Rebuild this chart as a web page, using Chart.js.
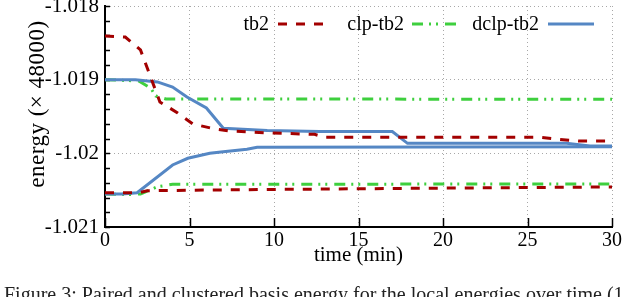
<!DOCTYPE html>
<html>
<head>
<meta charset="utf-8">
<script src="https://cdn.jsdelivr.net/npm/chart.js@4.4.1/dist/chart.umd.min.js"></script>
<style>
  html, body { margin: 0; padding: 0; background: #fff; overflow: hidden; width: 640px; height: 297px; }
  #wrap { position: absolute; left: 0; top: 0; width: 640px; height: 297px; }
  #caption { position: absolute; left: 4px; top: 284px; width: 700px; white-space: nowrap; line-height: 20px;
    font-family: "Liberation Serif", serif; font-size: 20px; color: #222; }
</style>
</head>
<body>
<div id="wrap"><canvas id="c" width="640" height="297"></canvas></div>
<div id="caption">Figure 3: Paired and clustered basis energy for the local energies over time (1</div>
<script>
// ---- data (time in min, energy in units of 48000) ----
const tb2UpperT = [0, 1.2, 2.1, 2.5, 3.25, 4.3, 5.2, 6.5, 7.4, 9.8, 12.4, 13.0, 25.7, 26.8, 28.0, 30];
const tb2UpperE = [-1.018407, -1.018421, -1.018597, -1.018842, -1.019303, -1.019452, -1.019601, -1.019670,
                   -1.019697, -1.019724, -1.019742, -1.019782, -1.019782, -1.019809, -1.019833, -1.019833];
const tb2LowerT = [0, 2.0, 2.5, 10, 20, 30];
const tb2LowerE = [-1.020534, -1.020534, -1.020507, -1.020490, -1.020472, -1.020456];

const clpUpperT = [0, 2.0, 2.7, 3.0, 3.6, 30];
const clpUpperE = [-1.019000, -1.019018, -1.019113, -1.019222, -1.019262, -1.019266];
const clpLowerT = [0, 1.5, 2.1, 2.66, 3.1, 4.0, 30];
const clpLowerE = [-1.020552, -1.020559, -1.020552, -1.020498, -1.020453, -1.020420, -1.020416];

const dclpUpperT = [0, 1.8, 3.1, 4.0, 4.85, 6.0, 7.0, 9.6, 12.7, 17.0, 17.9, 27.3, 28.7, 30];
const dclpUpperE = [-1.019000, -1.019000, -1.019031, -1.019100, -1.019235, -1.019385, -1.019660, -1.019690,
                    -1.019704, -1.019704, -1.019864, -1.019864, -1.019900, -1.019900];
const dclpLowerT = [0, 1.0, 1.9, 4.0, 4.9, 6.2, 7.0, 8.4, 9.0, 30];
const dclpLowerE = [-1.020552, -1.020552, -1.020534, -1.020158, -1.020067, -1.019999, -1.019977, -1.019945,
                    -1.019918, -1.019910];

const seriesNames = ['tb2', 'clp-tb2', 'dclp-tb2'];
const xTickValues = [0, 5, 10, 15, 20, 25, 30];
const yTitle = 'energy (× 48000)';

const pts = (t, e) => t.map((v, i) => ({ x: v, y: e[i] }));

const styles = {
  'tb2':      { color: '#a30000', dash: [9, 9], width: 3, order: 0 },
  'clp-tb2':  { color: '#3ecf3e', dash: [11, 6, 2, 5, 2, 7], width: 3, order: 2 },
  'dclp-tb2': { color: '#5587c4', dash: [], width: 3, order: 1 }
};

function ds(name, t, e) {
  const s = styles[name];
  return {
    label: name, data: pts(t, e), borderColor: s.color, backgroundColor: s.color,
    borderWidth: s.width, borderDash: s.dash, pointRadius: 0, tension: 0, fill: false,
    order: s.order
  };
}

const datasets = [
  ds('tb2', tb2UpperT, tb2UpperE),
  ds('tb2', tb2LowerT, tb2LowerE),
  ds('clp-tb2', clpUpperT, clpUpperE),
  ds('clp-tb2', clpLowerT, clpLowerE),
  ds('dclp-tb2', dclpUpperT, dclpUpperE),
  ds('dclp-tb2', dclpLowerT, dclpLowerE)
];

const FONT = '"Liberation Serif", "Times New Roman", serif';
const isMajor = v => Math.abs(v * 1000 - Math.round(v * 1000)) < 1e-6;

// inward tick marks
const inwardTicks = {
  id: 'inwardTicks',
  beforeDatasetsDraw(chart) {
    const { ctx, chartArea: a, scales: { x, y } } = chart;
    ctx.save();
    ctx.strokeStyle = '#000';
    ctx.lineWidth = 1.5;
    y.ticks.forEach(t => {
      const py = Math.round(y.getPixelForValue(t.value)) + 0.5;
      ctx.beginPath(); ctx.moveTo(a.left, py); ctx.lineTo(a.left + 5, py); ctx.stroke();
    });
    x.ticks.forEach(t => {
      const px = Math.round(x.getPixelForValue(t.value)) + 0.5;
      ctx.beginPath(); ctx.moveTo(px, a.bottom); ctx.lineTo(px, a.bottom - 9); ctx.stroke();
    });
    ctx.restore();
  }
};

// rotated y-axis title
const yTitlePlugin = {
  id: 'yTitlePlugin',
  afterDraw(chart, args, opts) {
    const { ctx } = chart;
    ctx.save();
    ctx.translate(opts.x, opts.y);
    ctx.rotate(-Math.PI / 2);
    ctx.font = opts.size + 'px ' + FONT;
    if ('letterSpacing' in ctx) ctx.letterSpacing = opts.spacing + 'px';
    ctx.fillStyle = '#000';
    ctx.textAlign = 'center';
    ctx.textBaseline = 'middle';
    ctx.fillText(yTitle, 0, 0);
    ctx.restore();
  }
};

// gnuplot-style legend: label text, then a line sample
const gnuLegend = {
  id: 'gnuLegend',
  afterDatasetsDraw(chart, args, opts) {
    const { ctx } = chart;
    ctx.save();
    ctx.font = '20px ' + FONT;
    ctx.textAlign = 'right';
    ctx.textBaseline = 'middle';
    opts.items.forEach((it, i) => {
      const s = styles[seriesNames[i]];
      ctx.fillStyle = '#000';
      ctx.fillText(seriesNames[i], it.textRight, opts.y + 1);
      ctx.strokeStyle = s.color;
      ctx.lineWidth = s.width;
      ctx.setLineDash(s.dash);
      ctx.beginPath(); ctx.moveTo(it.x1, opts.y); ctx.lineTo(it.x2, opts.y); ctx.stroke();
    });
    ctx.restore();
  }
};

new Chart(document.getElementById('c'), {
  type: 'line',
  data: { datasets },
  plugins: [inwardTicks, gnuLegend, yTitlePlugin],
  options: {
    responsive: false,
    animation: false,
    devicePixelRatio: 1,
    layout: { padding: { top: 6, right: 28, left: 0, bottom: 0 } },
    plugins: {
      legend: { display: false },
      tooltip: { enabled: false },
      yTitlePlugin: { x: 38, y: 104, size: 23, spacing: 0.5 },
      gnuLegend: {
        y: 24,
        items: [
          { textRight: 269, x1: 278, x2: 324 },
          { textRight: 404, x1: 412, x2: 458 },
          { textRight: 539, x1: 548, x2: 594 }
        ]
      }
    },
    scales: {
      x: {
        type: 'linear', min: 0, max: 30,
        afterFit(s) { s.height = 70; s.paddingLeft = 0; s.paddingRight = 0; },
        afterBuildTicks(s) { s.ticks = xTickValues.map(v => ({ value: v })); },
        ticks: { color: '#000', font: { family: FONT, size: 20 }, padding: 2, maxRotation: 0, autoSkip: false },
        grid: { color: '#a8a8a8', lineWidth: 1, drawTicks: false },
        border: { display: true, color: '#000', width: 2, dash: [1, 3] },
        title: { display: true, text: 'time (min)', color: '#000', font: { family: FONT, size: 21 },
                 padding: { top: 0, bottom: 29 } }
      },
      y: {
        type: 'linear', min: -1.021, max: -1.018,
        afterFit(s) { s.width = 105; s.paddingTop = 0; s.paddingBottom = 0; },
        ticks: {
          stepSize: 0.0002, autoSkip: false, color: '#000', padding: 6,
          font: { family: FONT, size: 21 },
          callback: v => isMajor(v) ? String(parseFloat(v.toFixed(3))) : ''
        },
        grid: {
          color: c => (c.tick && isMajor(c.tick.value)) ? '#a8a8a8' : 'rgba(0,0,0,0)',
          lineWidth: 1, drawTicks: false
        },
        border: { display: true, color: '#000', width: 2, dash: [1, 3] },
        title: { display: false }
      }
    }
  }
});
</script>
</body>
</html>
